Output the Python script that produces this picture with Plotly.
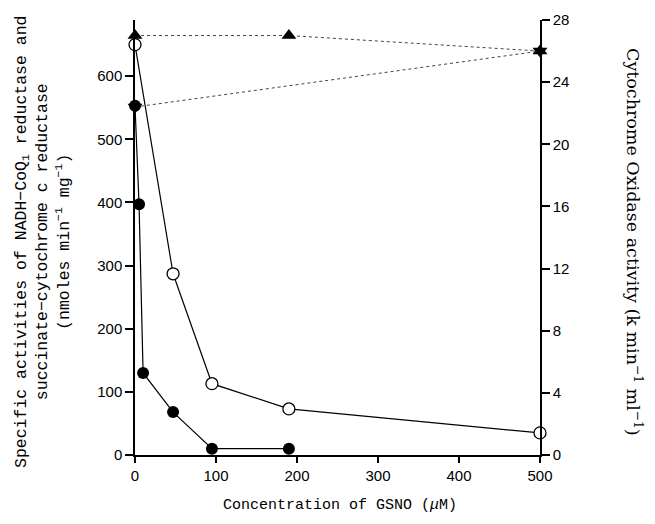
import plotly.graph_objects as go

# Concentration of GSNO (uM)
x_open = [0, 47, 95, 190, 500]
nadh_open = [650, 287, 113, 73, 35]

x_filled = [0, 5, 10, 47, 95, 190]
succ_filled = [553, 397, 130, 68, 10, 10]

x_up = [0, 190, 500]
cox_up = [27.0, 27.0, 26.0]

x_down = [0, 500]
cox_down = [22.4, 26.0]

x_ticks = [0, 100, 200, 300, 400, 500]
y_ticks = [0, 100, 200, 300, 400, 500, 600]
y2_ticks = [0, 4, 8, 12, 16, 20, 24, 28]

fig = go.Figure()

fig.add_trace(go.Scatter(
    x=x_up, y=cox_up, yaxis="y2", mode="lines+markers",
    line=dict(color="#444", width=1, dash="dot"),
    marker=dict(symbol="triangle-up", size=13, color="black"),
    cliponaxis=False, showlegend=False))
fig.add_trace(go.Scatter(
    x=x_down, y=cox_down, yaxis="y2", mode="lines+markers",
    line=dict(color="#444", width=1, dash="dot"),
    marker=dict(symbol="triangle-down", size=13, color="black"),
    cliponaxis=False, showlegend=False))
fig.add_trace(go.Scatter(
    x=x_open, y=nadh_open, mode="lines+markers",
    line=dict(color="black", width=1.2),
    marker=dict(symbol="circle", size=12, color="white",
                line=dict(color="black", width=1.3)),
    cliponaxis=False, showlegend=False))
fig.add_trace(go.Scatter(
    x=x_filled, y=succ_filled, mode="lines+markers",
    line=dict(color="black", width=1.2),
    marker=dict(symbol="circle", size=12, color="black"),
    cliponaxis=False, showlegend=False))

tickfont = dict(family="Liberation Sans, Arial", size=15, color="black")

fig.update_layout(
    width=655, height=524,
    paper_bgcolor="white", plot_bgcolor="white",
    margin=dict(l=135, r=115, t=20, b=69),
    xaxis=dict(range=[0, 500], tickvals=x_ticks, showgrid=False, zeroline=False,
               showline=True, linecolor="black", linewidth=1.5,
               ticks="outside", ticklen=6, tickwidth=1.5, tickcolor="black",
               tickfont=tickfont),
    yaxis=dict(range=[0, 689], tickvals=y_ticks, showgrid=False, zeroline=False,
               showline=True, linecolor="black", linewidth=1.5,
               ticks="outside", ticklen=8, tickwidth=1.5, tickcolor="black",
               tickfont=tickfont),
    yaxis2=dict(range=[0, 28], tickvals=y2_ticks, overlaying="y", side="right",
                anchor="x", showgrid=False, zeroline=False,
                showline=True, linecolor="black", linewidth=1.5,
                ticks="outside", ticklen=8, tickwidth=1.5, tickcolor="black",
                tickfont=tickfont),
)

fig.add_annotation(
    text="Specific activities of NADH−CoQ<sub>1</sub> reductase and<br>"
         "succinate−cytochrome c reductase<br>"
         "(nmoles min<sup>−1</sup> mg<sup>−1</sup>)",
    xref="paper", yref="paper", x=(43 - 135) / 405, y=(455 - 242) / 435,
    textangle=-90, showarrow=False, xanchor="center", yanchor="middle",
    font=dict(family="Liberation Mono, Courier New", size=16.5, color="black"))

fig.add_annotation(
    text="Cytochrome Oxidase activity (k min<sup>−1</sup> ml<sup>−1</sup>)",
    xref="paper", yref="paper", x=(634 - 135) / 405, y=(455 - 242) / 435,
    textangle=90, showarrow=False, xanchor="center", yanchor="middle",
    font=dict(family="DejaVu Serif", size=17.5, color="black"))

fig.add_annotation(
    text="Concentration of GSNO (<i>μ</i>M)",
    xref="paper", yref="paper", x=(340 - 135) / 405, y=(455 - 505) / 435,
    showarrow=False, xanchor="center", yanchor="middle",
    font=dict(family="Liberation Mono, Courier New", size=15, color="black"))

fig.write_html("out.html", config={"displayModeBar": False},
               post_script="document.body.style.margin='0';document.body.style.padding='0';")
